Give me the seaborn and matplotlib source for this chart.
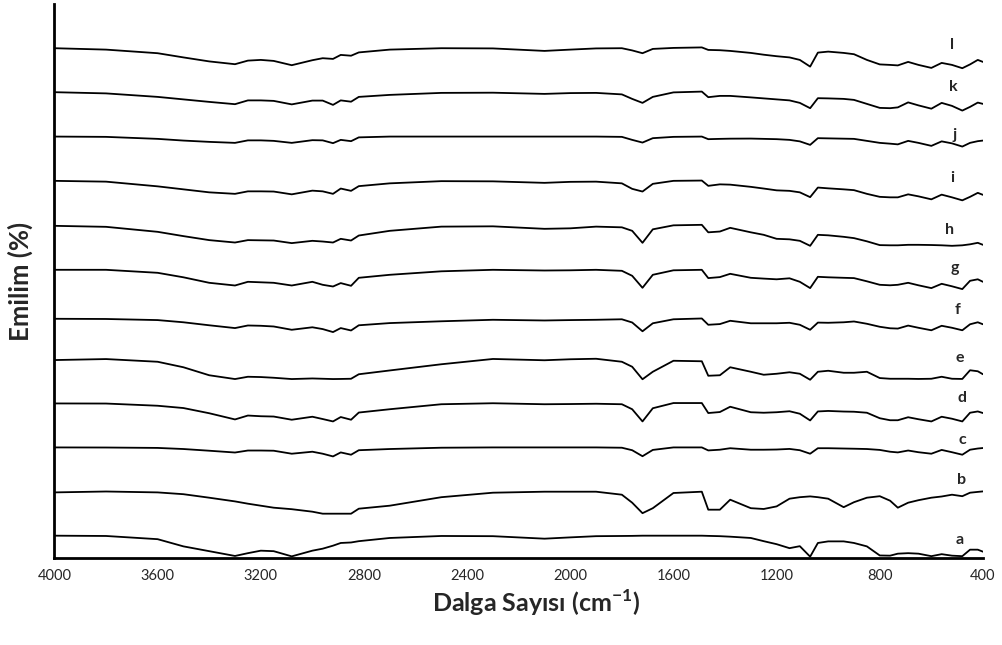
import numpy as np
import pandas as pd
import matplotlib
matplotlib.use("Agg")
import matplotlib.pyplot as plt
import seaborn as sns

sns.set_style("white")
plt.rcParams["font.family"] = ["Lato", "DejaVu Sans"]
plt.rcParams["mathtext.fontset"] = "custom"
plt.rcParams["mathtext.bf"] = "Lato:bold"
plt.rcParams["mathtext.rm"] = "Lato"

# ----------------------------------------------------------------------
# Data: stacked FTIR spectra (offset units)
# ----------------------------------------------------------------------
WAVENUMBER = [4000, 3800, 3600, 3500, 3400, 3300, 3250, 3200, 3150, 3080,
              3000, 2960, 2920, 2890, 2850, 2820, 2700, 2500, 2300, 2100,
              2000, 1900, 1800, 1760, 1720, 1680, 1600, 1490, 1465, 1420,
              1380, 1300, 1250, 1200, 1150, 1110, 1070, 1040, 1000, 940,
              900, 850, 800, 760, 730, 690, 650, 600, 560, 520,
              480, 450, 420, 400]

spec_a = [22, 21.7, 18.5, 11.3, 6.5, 1.7, 4.5, 7, 6.5, 1.3,
          7, 9, 12, 14.7, 15.2, 16.5, 19.7, 21.7, 21.5, 19,
          20.3, 21.5, 21.7, 21.8, 22, 22, 22, 22, 21.8, 21.5,
          21, 19.7, 16.5, 13.5, 9.5, 11.5, 1, 14.7, 16.3, 16.3,
          14.7, 11.3, 2.2, 2, 4, 4.5, 4, 1.5, 3.5, 2,
          1.5, 8, 8, 6]
spec_b = [65.3, 66.2, 65.3, 63.5, 60, 56.3, 54, 52, 50, 48.5,
          46, 44, 44, 44, 44, 49, 52, 60.5, 65, 66,
          66, 66, 63, 55, 44.5, 49.5, 64.7, 66, 48, 48,
          58, 49.5, 48.7, 51.3, 59, 60.5, 61.3, 60.5, 59, 50.5,
          55.5, 60, 61.5, 57, 50, 55, 57.5, 60, 61.2, 63,
          61.5, 65, 65.8, 66.3]
spec_c = [110.3, 110.2, 109.8, 108.7, 107, 105.2, 107.2, 107.2, 107, 104,
          106, 104, 101.3, 105.3, 103, 107.5, 108.7, 110, 110.3, 110.3,
          110.3, 110.3, 110, 107.5, 101.5, 107.8, 110.3, 110.3, 107.3, 108,
          109.5, 108, 108, 108.2, 108.8, 107.5, 104, 109.5, 109.5, 109.2,
          109, 108.7, 107.8, 106, 105.3, 107.2, 105.5, 104, 107.8, 105.5,
          103, 108, 109.2, 109.7]
spec_d = [154.3, 154.2, 152, 149.7, 144.5, 138.3, 142.2, 141.5, 141.2, 138,
          141, 138.7, 136.3, 140.7, 138, 145.2, 148.5, 153.5, 154.5, 153.5,
          153.7, 154, 153.5, 148.5, 136.3, 149.5, 154.7, 154.7, 144.7, 145.7,
          151, 145.5, 145, 145.5, 146.5, 144, 137.3, 146.3, 146.8, 146.2,
          146, 145, 139.5, 137.5, 137.5, 140.5, 138.5, 136.3, 141, 139,
          136.3, 145, 146.3, 144.7]
spec_e = [197.7, 198.7, 196, 190.5, 182.5, 178.7, 181, 180.7, 180, 178.7,
          179.3, 179, 178.7, 178.8, 179, 183.5, 187.3, 193.5, 198.8, 197.5,
          198.5, 199, 196, 191, 178.5, 186, 197, 196.5, 182, 182.5,
          190.5, 186, 183, 184, 185.5, 184, 178, 186, 187, 185,
          185, 186, 179.7, 179, 179, 179, 178.8, 179, 181, 179,
          178.8, 187.5, 186.5, 183.5]
spec_f = [239, 238.8, 237.7, 235.5, 232.5, 229.7, 232.3, 232, 231.3, 228,
          230.5, 228.7, 225.7, 229.7, 227.3, 232.5, 234.7, 236.5, 238, 237.3,
          237.7, 238, 238.5, 235.3, 226.5, 234.5, 238.5, 239.3, 233, 233.7,
          237, 234.5, 234.5, 234.5, 235, 233, 228, 235.2, 235, 235.5,
          236.3, 234, 231, 229.5, 229.2, 232.2, 230, 227.5, 232, 230,
          227.5, 233.5, 235.5, 233.5]
spec_g = [288, 288, 285, 280.5, 275, 272.3, 276, 275.5, 275, 272.3,
          276, 273, 271.3, 274.7, 272, 280, 283, 286.5, 288, 287.3,
          287.5, 288, 287, 282, 270, 283, 287.5, 288, 279.7, 280.7,
          284, 280, 279.2, 278.5, 279.5, 276, 269.7, 281, 280.5, 280,
          279.7, 276.5, 273, 272.5, 273, 275, 272.5, 269.7, 274, 271.5,
          268.7, 277, 278.5, 276]
spec_h = [332, 331, 326, 321.7, 317.7, 315.3, 317.7, 317.5, 317.3, 314.7,
          317, 316.3, 315.3, 319, 317.3, 322.3, 327, 331.2, 331.5, 329,
          329.5, 331.2, 330.5, 327, 315, 328.5, 332.5, 333, 325.5, 326.3,
          330, 325.5, 323, 319, 318.5, 317, 312, 323, 322.5, 321,
          319.7, 316.5, 312.7, 312.5, 312.5, 313, 313, 312.8, 312.5, 312,
          312.5, 313.5, 315, 313]
spec_i = [377, 376.2, 371.5, 368.5, 365.5, 364, 366.5, 366.5, 366.3, 363.5,
          367.2, 366.5, 364, 369.3, 367, 371.7, 374.5, 376.7, 376.5, 375,
          376, 376.2, 374.5, 369, 366.3, 374, 377, 377.3, 372, 373.5,
          373.2, 371, 369.3, 367.5, 367, 365.5, 360.7, 370.3, 369.5, 368.5,
          367.7, 364, 361, 360.5, 360.5, 363.5, 361.5, 358.5, 363.2, 360.5,
          357.5, 361, 365, 363]
spec_j = [421.3, 421, 419, 417.3, 416, 415, 417.5, 417.5, 417, 415,
          417.7, 417.5, 414.7, 418, 416.7, 420.5, 421.3, 421.3, 421.3, 421.3,
          421.3, 421.3, 421, 418, 415.3, 419.7, 421, 421.3, 418.7, 419,
          419.2, 419.3, 419, 418.7, 418, 416.5, 413, 419.7, 419.5, 419.2,
          419, 417, 415, 414.2, 413.5, 417, 415, 412, 416.5, 414.5,
          411.3, 415, 416.7, 417.3]
spec_k = [465.7, 464.5, 461, 458.5, 456, 453.7, 457.5, 457.5, 457, 453.5,
          457.3, 457.3, 453, 457.5, 456.2, 461, 463, 465, 465.2, 464,
          464.8, 465, 463.5, 459, 455, 461, 465.5, 466.3, 460.7, 462,
          462, 460.5, 459.5, 458.5, 457.5, 455, 449.7, 459.7, 459.5, 459,
          458, 454, 450, 449.7, 450.5, 455.5, 452.5, 449.2, 455, 452,
          447.3, 451, 455.3, 454]
spec_l = [509.7, 508.3, 504.7, 500.5, 496.5, 493.7, 497.3, 498, 497, 492.7,
          497.7, 499.7, 499, 503, 502.2, 505.5, 508.3, 509.7, 509.5, 507,
          508.3, 509.5, 509.7, 507.5, 504.7, 509, 510, 510.5, 508, 507.7,
          507, 505, 503.2, 501.7, 500.5, 498, 491.3, 505.3, 506.3, 505,
          503.7, 498, 493.5, 493, 492.5, 496, 493, 490, 495, 493,
          489.7, 493.5, 498, 496]

SAMPLES = ["a", "b", "c", "d", "e", "f", "g", "h", "i", "j", "k", "l"]
spectra = [spec_a, spec_b, spec_c, spec_d, spec_e, spec_f,
           spec_g, spec_h, spec_i, spec_j, spec_k, spec_l]

# label anchor (wavenumber, offset level) for each trace letter
LABEL_WN = [489, 481, 481, 481, 489, 497, 508, 528, 520, 508, 516, 520]
LABEL_Y = [18, 78, 118, 159.7, 199.7, 248, 289.7, 328, 379.7, 423, 471.3, 513]

XTICKS = [4000, 3600, 3200, 2800, 2400, 2000, 1600, 1200, 800, 400]

df = pd.concat(
    [pd.DataFrame({"wavenumber": WAVENUMBER, "emilim": vals, "sample": s})
     for s, vals in zip(SAMPLES, spectra)],
    ignore_index=True,
)

# ----------------------------------------------------------------------
# Plot
# ----------------------------------------------------------------------
fig = plt.figure(figsize=(10.03, 6.45), dpi=100)
ax = fig.add_axes([0.0543, 0.1354, 0.9257, 0.8585])

sns.lineplot(data=df, x="wavenumber", y="emilim", hue="sample", units="sample",
             estimator=None, palette=["black"] * len(SAMPLES), linewidth=1.3,
             legend=False, ax=ax)

for s, wn, yv in zip(SAMPLES, LABEL_WN, LABEL_Y):
    ax.text(wn, yv, s, fontsize=11.5, fontweight="bold", ha="center", va="center")

ax.set_xlim(4000, 400)
ax.set_ylim(0, 554)
ax.set_xticks(XTICKS)
ax.set_xticklabels([str(t) for t in XTICKS], fontsize=10.5)
ax.set_yticks([])
ax.set_xlabel("")
ax.set_ylabel("")
ax.tick_params(axis="x", direction="out", length=5, width=1.5, pad=3)

for side in ["top", "right"]:
    ax.spines[side].set_visible(False)
for side in ["left", "bottom"]:
    ax.spines[side].set_linewidth(2)
    ax.spines[side].set_color("black")

fig.text(20 / 1003, 1 - 281 / 645, "Emilim (%)", rotation=90, fontsize=18.5,
         fontweight="bold", ha="center", va="center")
fig.text(536 / 1003, 1 - 603 / 645, r"Dalga Sayısı (cm$^{\mathbf{-1}}$)",
         fontsize=18, fontweight="bold", ha="center", va="center")

plt.savefig("out.png", dpi=100)
plt.close()
